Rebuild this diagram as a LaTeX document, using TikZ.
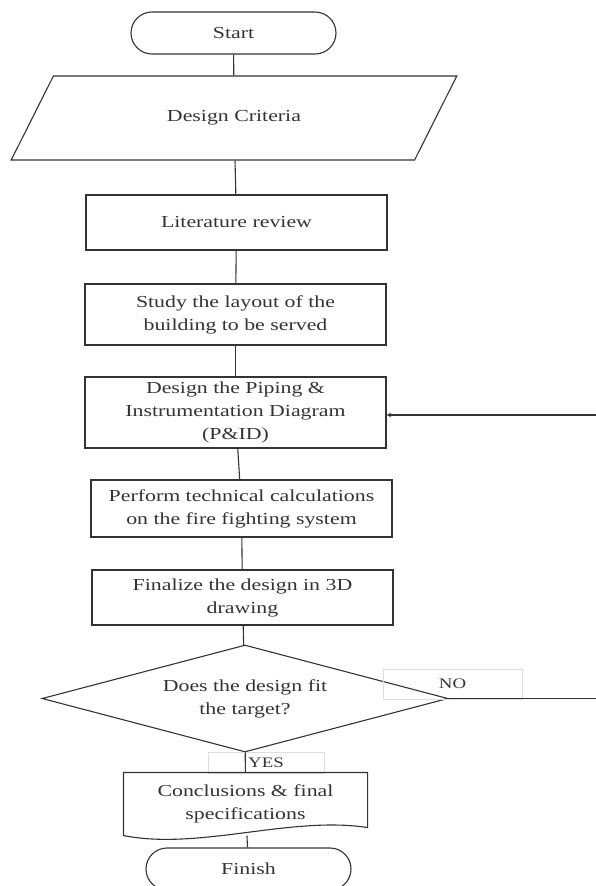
\documentclass[tikz,border=0pt]{standalone}
\usepackage{fontspec}
\setmainfont{Liberation Serif}[FakeStretch=1.3]
\usetikzlibrary{arrows, shapes.geometric, shapes.misc, calc}
\definecolor{ln}{HTML}{333333}
\definecolor{lb}{HTML}{DDDDDD}

\begin{document}
\begin{tikzpicture}[
      x = 1pt, y = -1pt, % one unit = one pixel
      > = stealth, % arrow head style
      line width = 1.1pt, % line style
      color = ln,
      font = \fontsize{16.8}{23}\selectfont,
    ]

    \tikzstyle{every node}=[
      align = center,
      inner sep = 0pt
    ]
    \tikzstyle{proc}=[draw, rectangle, minimum width = 301pt]
    \tikzstyle{term}=[draw, rounded rectangle, minimum width = 205pt, minimum height = 42pt]
    \tikzstyle{lbl}=[draw = lb, line width = 0.6pt, font = \fontsize{14.5}{17}\selectfont]

    \useasboundingbox (0, 0) rectangle (596, 886);

    \node[term] (start) [at={(233.5, 33)}] {Start};
    \node[trapezium, draw, trapezium left angle = 43.3, trapezium right angle = 136.7,
      trapezium stretches = true, minimum width = 446pt, minimum height = 84pt]
      (crit) [at={(234, 118)}] {Design Criteria};
    \node[proc, minimum height = 55pt] (lit) [at={(236.5, 222.5)}] {Literature review};
    \node[proc, minimum height = 61pt] (study) [at={(235.5, 314.5)}] {Study the layout of the\\building to be served};
    \node[proc, minimum height = 71pt] (pid) [at={(235.5, 412.5)}] {Design the Piping \&\\Instrumentation Diagram\\(P\&ID)};
    \node[proc, minimum height = 57pt] (calc) [at={(241.5, 508.5)}] {Perform technical calculations\\on the fire fighting system};
    \node[proc, minimum height = 55pt] (final) [at={(242.5, 597.5)}] {Finalize the design in 3D\\drawing};
    \node[diamond, draw, aspect = 3.8, minimum width = 406pt, minimum height = 107pt] (fit) [at={(245, 698.5)}] {Does the design fit\\the target?};
    \node[lbl, minimum width = 139pt, minimum height = 30pt] (no) [at={(452.5, 684)}] {NO};
    \node[lbl, minimum width = 116pt, minimum height = 21pt] (yes) [at={(266, 762.5)}] {YES};
    \node[minimum width = 243pt, minimum height = 62pt] (conc) [at={(245.5, 804)}] {Conclusions \& final\\specifications};
    \node[term] (finish) [at={(248.5, 869)}] {Finish};

    % document shape with wavy bottom
    \draw (conc.north west) -- (conc.north east) -- ($(conc.south east)+(0, -8)$)
      .. controls +(-77, -12) and +(76, 15) .. (conc.south west) -- cycle;

    \coordinate (back) at (596, 415);
    \coordinate (noend) at (596, 698.5);

    \path (start) edge (crit);
    \path (crit) edge (lit);
    \path (lit) edge (study);
    \path (study) edge (pid);
    \path (pid) edge (calc);
    \path (calc) edge (final);
    \path (final) edge (fit);
    \path (fit) edge (conc);
    \path (conc) edge (finish);
    \path (fit) edge (noend);
    \path[->] (back) edge (back -| pid.east);
  \end{tikzpicture}
\end{document}
